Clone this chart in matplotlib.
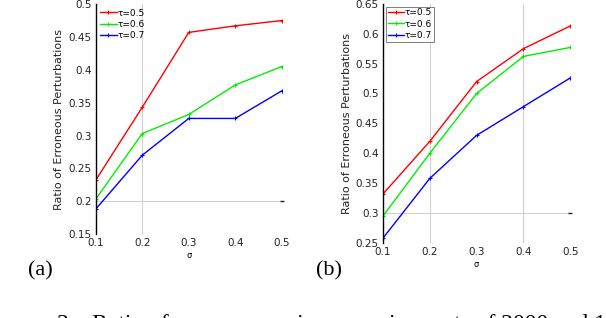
import matplotlib
matplotlib.use("Agg")
import matplotlib.pyplot as plt

sigma = [0.1, 0.2, 0.3, 0.4, 0.5]
labels = ["τ=0.5", "τ=0.6", "τ=0.7"]
colors = ["#ff0000", "#00ee00", "#0000ff"]

left_vals = [
    [0.232, 0.343, 0.457, 0.467, 0.475],
    [0.203, 0.303, 0.332, 0.377, 0.405],
    [0.188, 0.270, 0.326, 0.326, 0.368],
]
right_vals = [
    [0.332, 0.420, 0.520, 0.575, 0.613],
    [0.295, 0.400, 0.500, 0.562, 0.577],
    [0.258, 0.358, 0.430, 0.478, 0.526],
]
left_yticks = [0.15, 0.2, 0.25, 0.3, 0.35, 0.4, 0.45, 0.5]
right_yticks = [0.25, 0.3, 0.35, 0.4, 0.45, 0.5, 0.55, 0.6, 0.65]

fig = plt.figure(figsize=(6.06, 3.18), dpi=100)
axL = fig.add_axes([0.158, 0.264, 0.307, 0.723])
axR = fig.add_axes([0.632, 0.236, 0.309, 0.752])

def style(ax, vals, yticks, vgrid, hgrid, legend_frame):
    for v in vgrid:
        ax.axvline(v, color="#d0d0d0", lw=0.8, zorder=0)
    for h in hgrid:
        ax.axhline(h, color="#d0d0d0", lw=0.8, zorder=0)
        ax.plot([sigma[-1]], [h], marker="_", color="#222222", ms=3, mew=1.0,
                clip_on=False, zorder=1)
    for series, c, lab in zip(vals, colors, labels):
        ax.plot(sigma, series, color=c, lw=1.0, marker="+", ms=3, mew=0.8, label=lab)
    ax.set_xlim(0.1, 0.5)
    ax.set_ylim(yticks[0], yticks[-1])
    ax.set_xticks(sigma)
    ax.set_xticklabels([f"{s:g}" for s in sigma])
    ax.set_yticks(yticks)
    ax.set_yticklabels([f"{t:g}" for t in yticks])
    for s in ["top", "right"]:
        ax.spines[s].set_visible(False)
    ax.spines["bottom"].set_visible(False)
    ax.spines["left"].set_color("black")
    ax.spines["left"].set_linewidth(1.0)
    ax.tick_params(length=0, labelsize=7.5, colors="#222222", pad=3)
    ax.set_xlabel("σ", fontsize=6, labelpad=2)
    ax.set_ylabel("Ratio of Erroneous Perturbations", fontsize=8, labelpad=3,
                  color="#222222")
    leg = ax.legend(loc="upper left", fontsize=6.5, frameon=legend_frame,
                    handlelength=1.8, handletextpad=0.1, labelspacing=0.25,
                    borderaxespad=0.3, fancybox=False, borderpad=0.2)
    if legend_frame:
        leg.get_frame().set_edgecolor("#444444")
        leg.get_frame().set_linewidth(0.6)

style(axL, left_vals, left_yticks, [0.2], [0.2], False)
style(axR, right_vals, right_yticks, [0.2, 0.4], [0.3], True)

fig.text(0.066, 0.148, "(a)", fontsize=16, family="Liberation Serif", ha="center", va="center")
fig.text(0.543, 0.148, "(b)", fontsize=16, family="Liberation Serif", ha="center", va="center")
fig.text(0.094, -0.039, "3.   Ratio of erroneous noise on various sets of 2000 and 1",
         fontsize=17, family="Liberation Serif", ha="left", va="baseline")

fig.savefig("out.png", dpi=100)
